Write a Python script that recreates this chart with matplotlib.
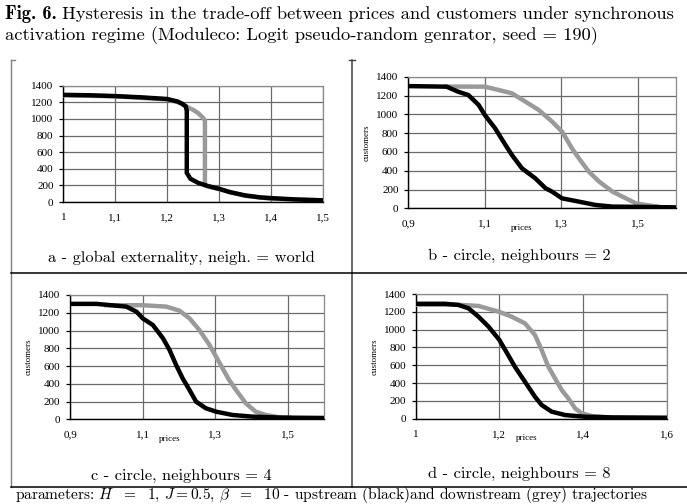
import matplotlib
matplotlib.use("Agg")
import matplotlib.pyplot as plt
from matplotlib.lines import Line2D

plt.rcParams["mathtext.fontset"] = "cm"

W, H = 687, 504

# ---- data: (prices, customers) for upstream (black) and downstream (grey) runs ----
a_up_x = [1.00, 1.05, 1.10, 1.15, 1.20, 1.22, 1.23, 1.236, 1.238, 1.238, 1.245, 1.26, 1.28, 1.30, 1.32, 1.35, 1.38, 1.42, 1.45, 1.50]
a_up_y = [1290, 1285, 1275, 1260, 1240, 1210, 1180, 1150, 1100, 350, 280, 230, 190, 160, 120, 80, 55, 40, 30, 20]
a_dn_x = [1.00, 1.10, 1.20, 1.22, 1.235, 1.24, 1.25, 1.26, 1.27, 1.273, 1.273, 1.28, 1.30, 1.35, 1.40, 1.50]
a_dn_y = [1285, 1272, 1235, 1205, 1160, 1140, 1110, 1070, 1010, 980, 200, 185, 155, 75, 40, 20]

b_up_x = [0.90, 1.00, 1.03, 1.057, 1.084, 1.10, 1.127, 1.154, 1.171, 1.197, 1.232, 1.259, 1.276, 1.302, 1.346, 1.39, 1.434, 1.48, 1.60]
b_up_y = [1300, 1294, 1241, 1205, 1099, 993, 851, 674, 567, 426, 319, 213, 177, 106, 71, 35, 18, 16, 10]
b_dn_x = [1.00, 1.10, 1.136, 1.171, 1.206, 1.241, 1.276, 1.302, 1.328, 1.346, 1.372, 1.399, 1.434, 1.469, 1.495, 1.521, 1.55]
b_dn_y = [1295, 1294, 1259, 1223, 1135, 1046, 922, 816, 638, 532, 390, 284, 177, 106, 53, 35, 20]

c_up_x = [0.90, 0.973, 1.055, 1.083, 1.10, 1.128, 1.156, 1.174, 1.192, 1.21, 1.229, 1.247, 1.274, 1.302, 1.347, 1.402, 1.484, 1.597]
c_up_y = [1300, 1300, 1269, 1212, 1137, 1062, 912, 781, 612, 462, 330, 199, 124, 86, 49, 30, 19, 15]
c_dn_x = [1.00, 1.10, 1.165, 1.201, 1.229, 1.256, 1.284, 1.302, 1.32, 1.338, 1.357, 1.384, 1.411, 1.439, 1.475, 1.503]
c_dn_y = [1285, 1285, 1269, 1224, 1137, 1006, 837, 706, 574, 443, 330, 180, 86, 49, 23, 19]

d_up_x = [1.00, 1.07, 1.102, 1.126, 1.15, 1.174, 1.20, 1.221, 1.237, 1.253, 1.269, 1.285, 1.301, 1.325, 1.357, 1.404, 1.468, 1.60]
d_up_y = [1290, 1290, 1277, 1240, 1146, 1034, 884, 715, 584, 472, 360, 247, 154, 79, 41, 22, 15, 11]
d_dn_x = [1.00, 1.10, 1.15, 1.20, 1.229, 1.261, 1.285, 1.301, 1.317, 1.333, 1.349, 1.365, 1.381, 1.397, 1.421, 1.46]
d_dn_y = [1280, 1280, 1266, 1199, 1146, 1071, 940, 772, 584, 453, 322, 228, 116, 60, 30, 15]

y_ticks = [0, 200, 400, 600, 800, 1000, 1200, 1400]
a_xticks = [1.0, 1.1, 1.2, 1.3, 1.4, 1.5]
a_xlabels = ["1", "1,1", "1,2", "1,3", "1,4", "1,5"]
bc_xticks = [0.9, 1.1, 1.3, 1.5]
bc_xlabels = ["0,9", "1,1", "1,3", "1,5"]
d_xticks = [1.0, 1.2, 1.4, 1.6]
d_xlabels = ["1", "1,2", "1,4", "1,6"]

captions = ["a - global externality, neigh. = world",
            "b - circle, neighbours = 2",
            "c - circle, neighbours = 4",
            "d - circle, neighbours = 8"]

fig = plt.figure(figsize=(W / 100, H / 100), dpi=100)
fig.patch.set_facecolor("white")


def px_axes(left, top, right, bottom):
    return fig.add_axes([left / W, 1 - bottom / H, (right - left) / W, (bottom - top) / H])


TICKFONT = dict(family="Liberation Serif", size=8)
GRID = "#6a6a6a"
GREY = "#9a9a9a"


def style(ax, xlim, xticks, xlabels, labels=True):
    ax.set_xlim(*xlim)
    ax.set_ylim(0, 1400)
    ax.set_xticks(xticks)
    ax.set_xticklabels(xlabels, **TICKFONT)
    ax.set_yticks(y_ticks)
    ax.set_yticklabels([str(v) for v in y_ticks], **TICKFONT)
    ax.grid(True, color=GRID, lw=0.9)
    ax.set_axisbelow(True)
    for s in ("top", "right"):
        ax.spines[s].set_color("#8a8a8a")
        ax.spines[s].set_linewidth(0.9)
    for s in ("left", "bottom"):
        ax.spines[s].set_color("black")
        ax.spines[s].set_linewidth(1.0)
    ax.tick_params(axis="y", direction="out", length=3, width=0.9, pad=4)
    ax.tick_params(axis="x", direction="out", length=0, pad=8)
    if labels:
        ax.set_ylabel("customers", family="Liberation Serif", size=6.5, labelpad=4)


def curves(ax, ux, uy, dx, dy):
    ax.plot(dx, dy, color=GREY, lw=3.2, solid_joinstyle="miter", zorder=3)
    ax.plot(ux, uy, color="black", lw=3.2, solid_joinstyle="miter", zorder=4)


ax_a = px_axes(63.3, 85.7, 322.7, 202)
curves(ax_a, a_up_x, a_up_y, a_dn_x, a_dn_y)
style(ax_a, (1.0, 1.5), a_xticks, a_xlabels, labels=False)

ax_b = px_axes(408.3, 76.7, 676, 208.3)
curves(ax_b, b_up_x, b_up_y, b_dn_x, b_dn_y)
style(ax_b, (0.9, 1.6), bc_xticks, bc_xlabels)

ax_c = px_axes(70, 295, 324.3, 419.3)
curves(ax_c, c_up_x, c_up_y, c_dn_x, c_dn_y)
style(ax_c, (0.9, 1.6), bc_xticks, bc_xlabels)

ax_d = px_axes(415.7, 294, 666.7, 418.7)
curves(ax_d, d_up_x, d_up_y, d_dn_x, d_dn_y)
style(ax_d, (1.0, 1.6), d_xticks, d_xlabels)

# "prices" labels placed beside the middle tick labels
for x, y in [(521.7, 228.5), (170, 439), (526.7, 438.5)]:
    fig.text(x / W, 1 - y / H, "prices", family="Liberation Serif", size=6.5,
             ha="center", va="center")

# ---- frame of the figure table ----
def hline(y, x0, x1, color="black", lw=1.1):
    fig.add_artist(Line2D([x0 / W, x1 / W], [1 - y / H, 1 - y / H], color=color, lw=lw))


def vline(x, y0, y1, color="black", lw=1.1):
    fig.add_artist(Line2D([x / W, x / W], [1 - y0 / H, 1 - y1 / H], color=color, lw=lw))


vline(10.5, 60, 487, color="#808080", lw=1.0)
hline(60, 10.5, 15, color="#808080", lw=1.0)
vline(352, 60, 487, color="#404040", lw=1.1)
hline(60, 349, 355, color="#404040", lw=1.0)
hline(273, 10.5, 687, color="black", lw=1.1)
hline(487, 10.5, 687, color="black", lw=1.1)

# ---- captions ----
cap_pos = [(181, 258), (519, 256), (181, 476), (519, 474)]
for (x, y), txt in zip(cap_pos, captions):
    fig.text(x / W, 1 - y / H, txt, family="cmr10", size=11.8, ha="center", va="center")

# ---- title ----
t_bold = fig.text(5 / W, 1 - 14 / H, "Fig. 6.", family="cmb10", size=13.3,
                  ha="left", va="center")
renderer = fig.canvas.get_renderer()
bb = t_bold.get_window_extent(renderer=renderer)
fig.text((bb.x1 + 5) / W, 1 - 14 / H,
         "Hysteresis in the trade-off between prices and customers under synchronous",
         family="cmr10", size=13.3, ha="left", va="center")
fig.text(5 / W, 1 - 36 / H,
         "activation regime (Moduleco: Logit pseudo-random genrator, seed = 190)",
         family="cmr10", size=13.3, ha="left", va="center")

fig.text(15 / W, 1 - 499 / H,
         r"parameters: $H\ \ =\ \ 1$, $J = 0.5$, $\beta\ \ =\ \ 10$ - upstream (black)and downstream (grey) trajectories",
         family="cmr10", size=11.1, ha="left", va="baseline")

fig.savefig("out.png", dpi=100, facecolor="white")
